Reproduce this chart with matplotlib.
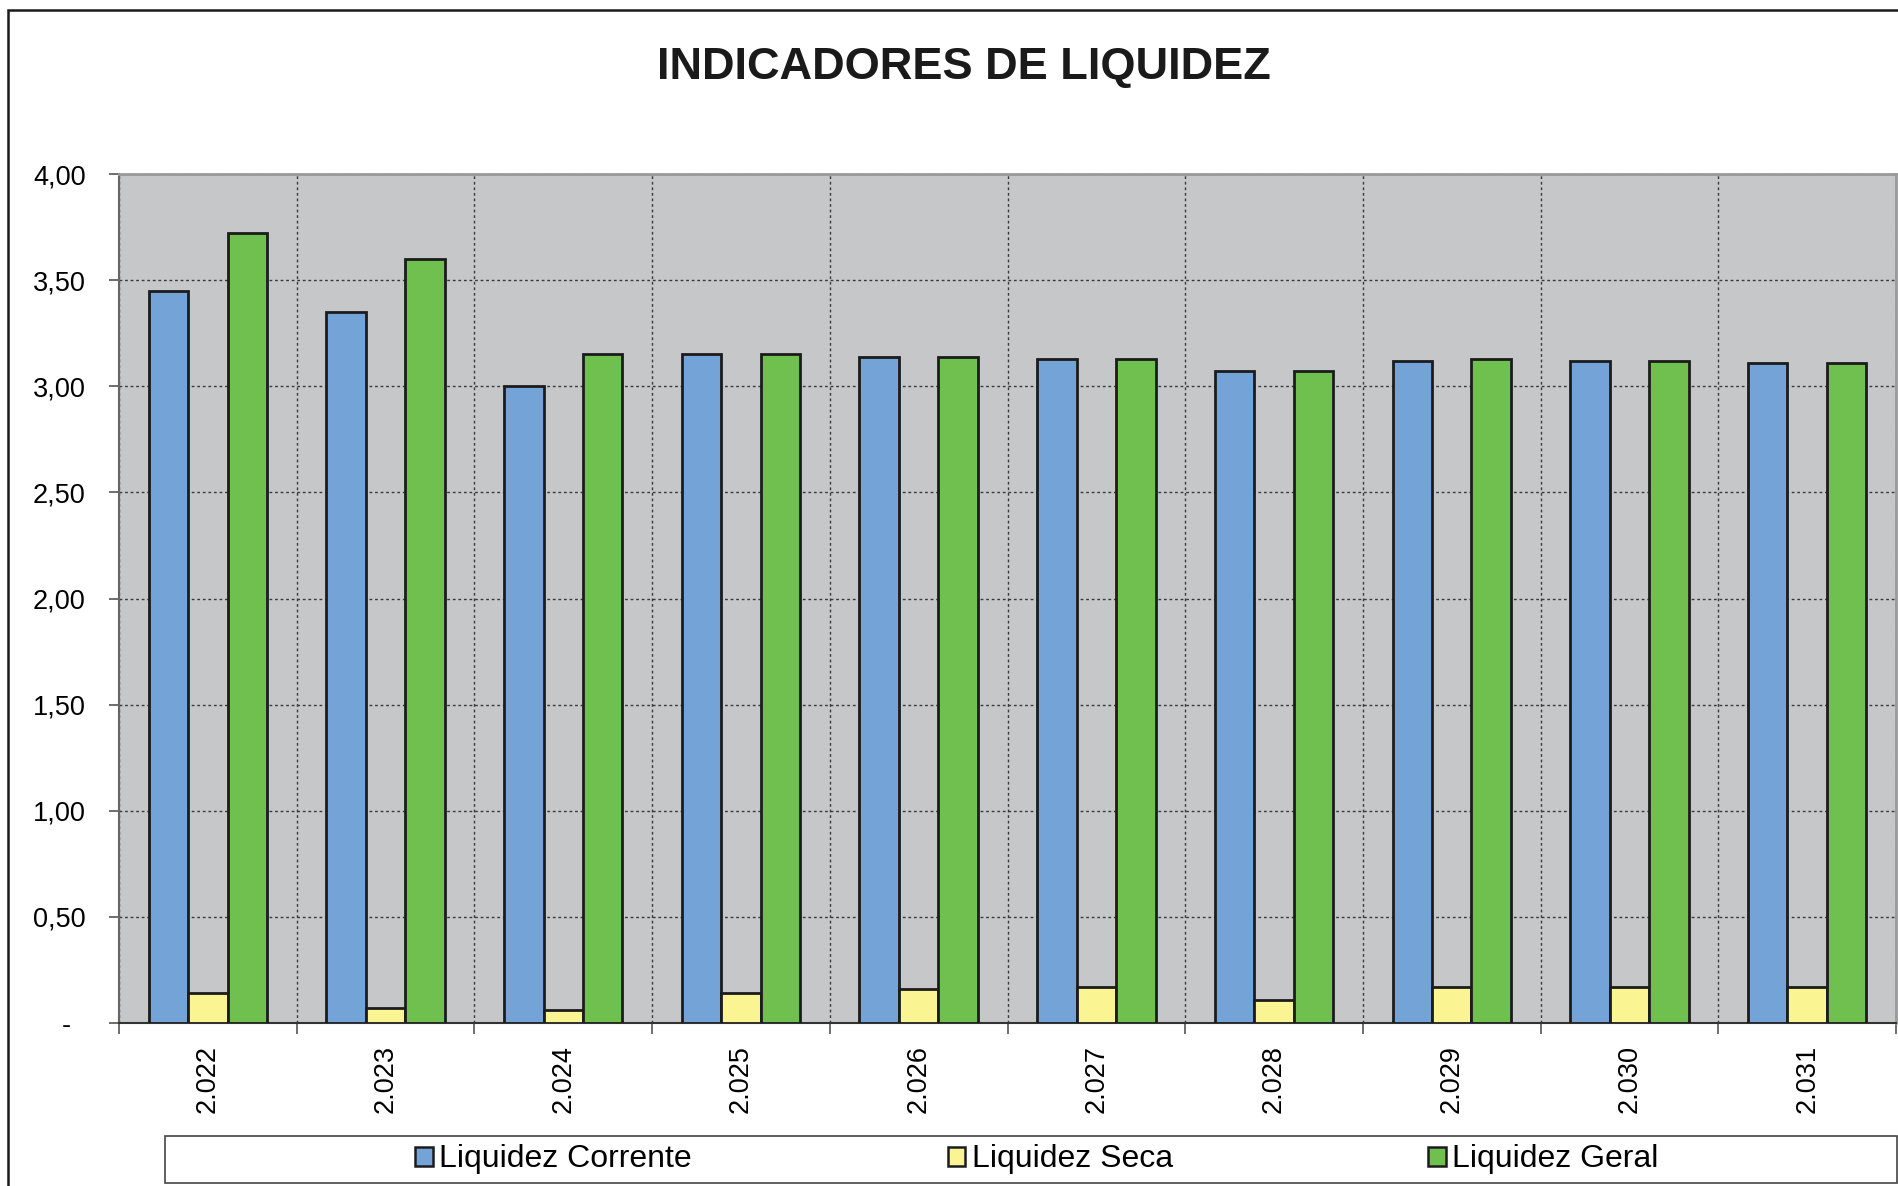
import matplotlib.pyplot as plt
import matplotlib.patches as mpatches
import numpy as np

plt.rcParams['font.family'] = ['Liberation Sans', 'DejaVu Sans']

# indicadores por ano
anos = ['2.022', '2.023', '2.024', '2.025', '2.026', '2.027', '2.028', '2.029', '2.030', '2.031']
corrente = [3.45, 3.35, 3.00, 3.15, 3.14, 3.13, 3.07, 3.12, 3.12, 3.11]
seca = [0.14, 0.07, 0.06, 0.14, 0.16, 0.17, 0.11, 0.17, 0.17, 0.17]
geral = [3.72, 3.60, 3.15, 3.15, 3.14, 3.13, 3.07, 3.13, 3.12, 3.11]

series = ['Liquidez Corrente', 'Liquidez Seca', 'Liquidez Geral']
cores = ['#74A3D7', '#FBF493', '#70C050']

fig = plt.figure(figsize=(18.98, 11.86), dpi=100)
ax = fig.add_axes([119 / 1898, 1 - 1023 / 1186, (1896 - 119) / 1898, (1023 - 174) / 1186])
ax.set_facecolor('#C6C7C9')

x = np.arange(len(anos))
w = 2 / 9
for k, (vals, cor) in enumerate(zip([corrente, seca, geral], cores)):
    ax.bar(x + (k - 1) * w, vals, w, color=cor, edgecolor='#1c1c1c', linewidth=2, zorder=3)

ax.set_xlim(-0.5, len(anos) - 0.5)
ax.set_ylim(0, 4)

yt = np.arange(0, 4.01, 0.5)
ax.set_yticks(yt)
ax.set_yticklabels(['-  '] + ['{:.2f}'.format(v).replace('.', ',') for v in yt[1:]], fontsize=19.5)
ax.tick_params(axis='y', length=7, width=1.2, color='#555555', pad=17)

ax.set_xticks(x)
ax.set_xticklabels(anos, rotation=90, fontsize=19.5)
ax.set_xticks(np.arange(-0.5, len(anos)), minor=True)
ax.tick_params(axis='x', which='major', length=0, pad=16)
ax.tick_params(axis='x', which='minor', length=8, width=1.2, color='#555555')

ax.grid(axis='y', which='major', linestyle=(0, (2, 2)), color='#3a3a3a', linewidth=1, zorder=1)
ax.grid(axis='x', which='minor', linestyle=(0, (2, 2)), color='#3a3a3a', linewidth=1, zorder=1)
ax.grid(axis='x', which='major', visible=False)
ax.set_axisbelow(True)

for s in ['top', 'right']:
    ax.spines[s].set_color('#9a9a9c')
    ax.spines[s].set_linewidth(2)
ax.spines['left'].set_color('#666666')
ax.spines['left'].set_linewidth(1.5)
ax.spines['bottom'].set_color('#333333')
ax.spines['bottom'].set_linewidth(1.5)

fig.text(964 / 1898, 1 - 67 / 1186, 'INDICADORES DE LIQUIDEZ', ha='center', va='center',
         fontsize=32.5, fontweight='bold', color='#1a1a1a')

# moldura externa e caixa da legenda
fig.patches.append(mpatches.Rectangle((8 / 1898, -0.05), 1.1, 1.05 - 10 / 1186, transform=fig.transFigure,
                                      fill=False, edgecolor='#1a1a1a', linewidth=1.8))
fig.patches.append(mpatches.Rectangle((165 / 1898, 1 - 1183 / 1186), (1897 - 165) / 1898, 47 / 1186,
                                      transform=fig.transFigure, facecolor='white',
                                      edgecolor='#444444', linewidth=1.2))

handles = [mpatches.Patch(facecolor=c, edgecolor='#1c1c1c', linewidth=1.8) for c in cores]
fig.legend(handles, series, loc='center', bbox_to_anchor=(1037 / 1898, 1 - 1159.5 / 1186),
           ncol=3, frameon=False, fontsize=23, handlelength=0.55, handleheight=0.55,
           handletextpad=0.2, columnspacing=8.0, borderpad=0)

fig.savefig('out.png', dpi=100)
